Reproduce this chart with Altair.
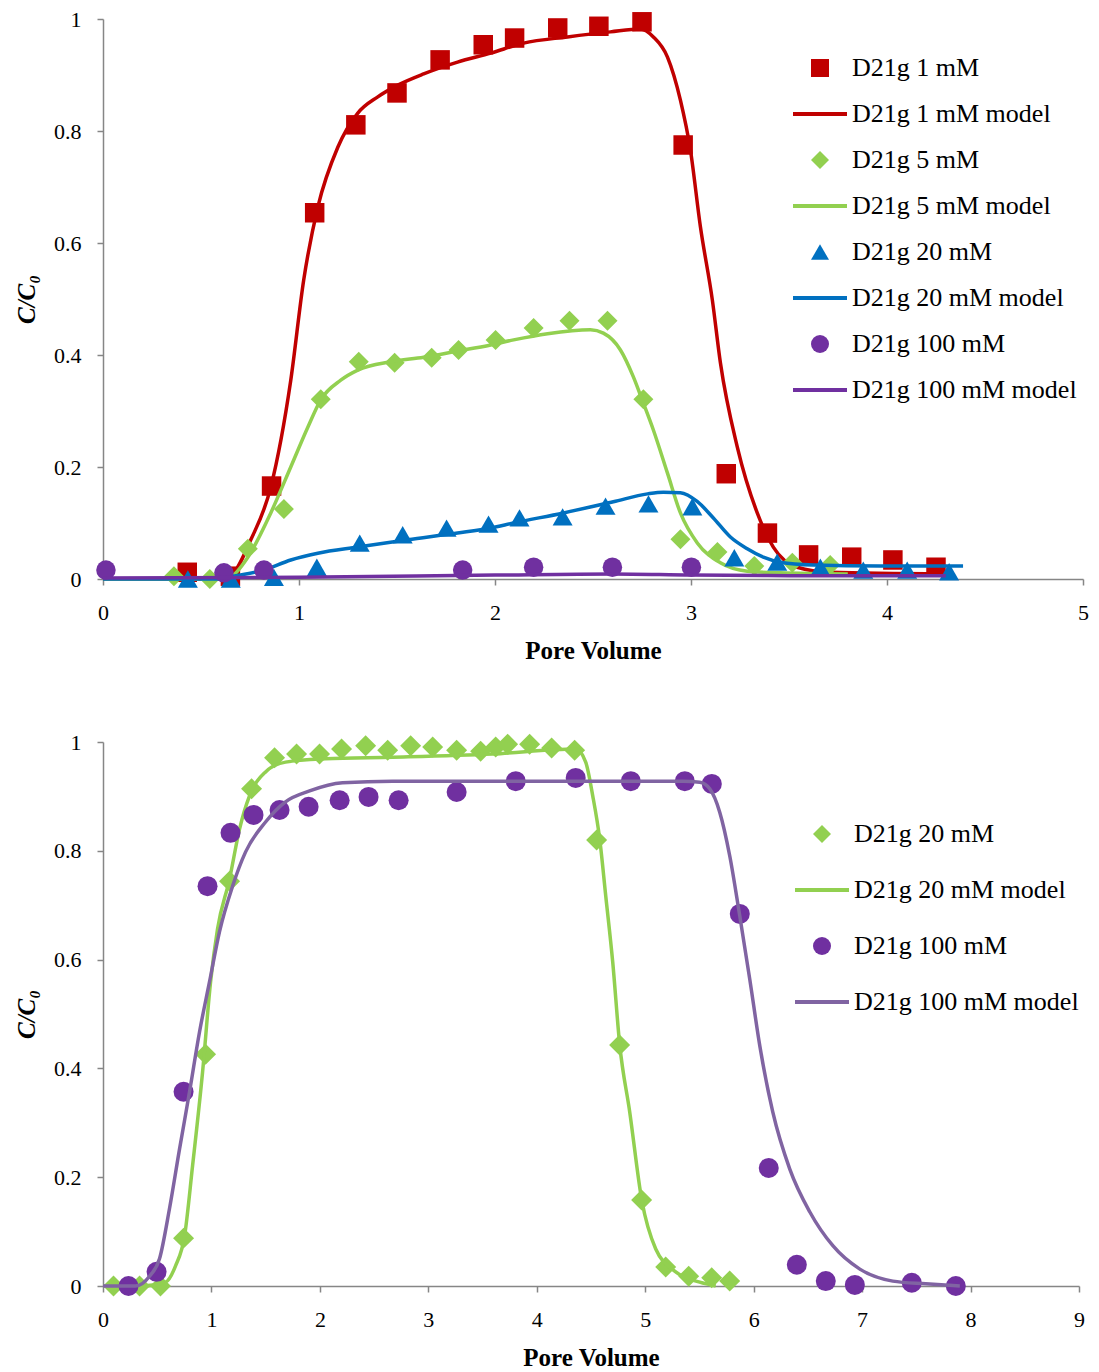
import altair as alt
import pandas as pd

# ---------------- Top panel ----------------
top_names = ["D21g 1 mM", "D21g 1 mM model", "D21g 5 mM", "D21g 5 mM model",
             "D21g 20 mM", "D21g 20 mM model", "D21g 100 mM", "D21g 100 mM model"]

t1_x = [0.43, 0.65, 0.86, 1.08, 1.29, 1.50, 1.72, 1.94, 2.10, 2.32, 2.53, 2.75, 2.96, 3.18, 3.39, 3.60, 3.82, 4.03, 4.25]
t1_y = [0.012, 0.005, 0.166, 0.654, 0.811, 0.868, 0.927, 0.954, 0.966, 0.984, 0.987, 0.995, 0.775, 0.188, 0.082, 0.043, 0.039, 0.034, 0.021]
t1m_x = [0.0, 0.60, 0.65, 0.754, 0.856, 0.958, 1.024, 1.096, 1.198, 1.300, 1.402, 1.504, 1.636, 1.809, 1.978, 2.146, 2.370, 2.589, 2.742, 2.808, 2.880, 2.946, 2.997, 3.048, 3.109, 3.150, 3.236, 3.338, 3.420, 3.542, 3.710, 4.30]
t1m_y = [0.0, 0.0, 0.005, 0.070, 0.164, 0.355, 0.534, 0.664, 0.771, 0.832, 0.861, 0.882, 0.902, 0.923, 0.939, 0.957, 0.968, 0.977, 0.982, 0.968, 0.932, 0.855, 0.766, 0.629, 0.498, 0.386, 0.236, 0.118, 0.057, 0.021, 0.012, 0.009]

t5_x = [0.362, 0.545, 0.739, 0.923, 1.111, 1.305, 1.488, 1.677, 1.814, 2.003, 2.197, 2.380, 2.574, 2.757, 2.946, 3.135, 3.323, 3.517, 3.710]
t5_y = [0.005, 0.0, 0.054, 0.125, 0.321, 0.388, 0.386, 0.395, 0.409, 0.427, 0.448, 0.461, 0.461, 0.321, 0.071, 0.048, 0.023, 0.029, 0.025]
t5m_x = [0.0, 0.60, 0.652, 0.739, 0.856, 0.958, 1.045, 1.111, 1.213, 1.300, 1.468, 1.636, 1.809, 1.978, 2.095, 2.268, 2.487, 2.553, 2.640, 2.706, 2.757, 2.808, 2.880, 2.946, 3.033, 3.150, 3.287, 3.456, 3.80]
t5m_y = [0.0, 0.0, 0.004, 0.039, 0.118, 0.200, 0.271, 0.320, 0.355, 0.373, 0.388, 0.396, 0.407, 0.418, 0.427, 0.438, 0.445, 0.439, 0.409, 0.361, 0.314, 0.266, 0.189, 0.118, 0.064, 0.029, 0.014, 0.011, 0.009]

t20_x = [0.433, 0.652, 0.872, 1.091, 1.310, 1.529, 1.753, 1.967, 2.125, 2.345, 2.564, 2.783, 3.007, 3.221, 3.440, 3.660, 3.879, 4.103, 4.317]
t20_y = [0.0, 0.0, 0.003, 0.021, 0.064, 0.079, 0.091, 0.098, 0.109, 0.111, 0.130, 0.134, 0.129, 0.038, 0.030, 0.021, 0.016, 0.016, 0.013]
t20m_x = [0.0, 0.60, 0.652, 0.821, 0.958, 1.096, 1.300, 1.555, 1.809, 1.978, 2.095, 2.350, 2.604, 2.778, 2.859, 2.946, 3.033, 3.114, 3.201, 3.287, 3.369, 3.456, 3.624, 3.965, 4.388]
t20m_y = [0.0, 0.0, 0.004, 0.016, 0.034, 0.046, 0.057, 0.070, 0.082, 0.091, 0.100, 0.118, 0.138, 0.152, 0.155, 0.154, 0.138, 0.109, 0.075, 0.054, 0.039, 0.030, 0.025, 0.023, 0.023]

t100_x = [0.015, 0.617, 0.821, 1.835, 2.197, 2.599, 3.002]
t100_y = [0.016, 0.011, 0.016, 0.016, 0.021, 0.021, 0.021]
t100m_x = [0.0, 1.0, 2.0, 2.6, 3.0, 3.5, 4.30]
t100m_y = [0.002, 0.003, 0.007, 0.009, 0.007, 0.006, 0.006]

top_colors = ["#C00000", "#C00000", "#92D050", "#92D050", "#0070C0", "#0070C0", "#7030A0", "#7030A0"]

# ---------------- Bottom panel ----------------
bot_names = ["D21g 20 mM", "D21g 20 mM model", "D21g 100 mM", "D21g 100 mM model"]

b20_x = [0.097, 0.337, 0.530, 0.743, 0.946, 1.167, 1.370, 1.582, 1.785, 1.997, 2.200, 2.422, 2.625, 2.837, 3.040, 3.261, 3.482, 3.621, 3.731, 3.934, 4.137, 4.349, 4.552, 4.764, 4.967, 5.189, 5.401, 5.613, 5.779]
b20_y = [0.0, 0.0, 0.0, 0.088, 0.426, 0.744, 0.914, 0.971, 0.978, 0.978, 0.987, 0.993, 0.985, 0.993, 0.991, 0.985, 0.983, 0.991, 0.996, 0.996, 0.989, 0.985, 0.820, 0.443, 0.158, 0.035, 0.018, 0.015, 0.009]
b20m_x = [0.0, 0.365, 0.577, 0.669, 0.752, 0.826, 0.918, 0.992, 1.056, 1.167, 1.259, 1.351, 1.499, 1.683, 2.053, 2.671, 3.593, 4.359, 4.451, 4.516, 4.580, 4.636, 4.700, 4.765, 4.857, 4.968, 5.097, 5.281, 5.503, 5.650]
b20m_y = [0.0, 0.0, 0.007, 0.037, 0.092, 0.221, 0.393, 0.559, 0.656, 0.748, 0.840, 0.901, 0.945, 0.963, 0.969, 0.972, 0.978, 0.987, 0.963, 0.901, 0.822, 0.717, 0.596, 0.443, 0.320, 0.158, 0.068, 0.026, 0.007, 0.0]

b100_x = [0.235, 0.494, 0.743, 0.964, 1.176, 1.388, 1.628, 1.896, 2.182, 2.449, 2.726, 3.261, 3.806, 4.359, 4.867, 5.365, 5.614, 5.872, 6.139, 6.398, 6.665, 6.933, 7.458, 7.864]
b100_y = [0.0, 0.026, 0.357, 0.735, 0.833, 0.866, 0.875, 0.881, 0.893, 0.899, 0.893, 0.908, 0.928, 0.934, 0.928, 0.928, 0.923, 0.684, 0.217, 0.039, 0.009, 0.002, 0.006, 0.0]
b100m_x = [0.0, 0.30, 0.429, 0.521, 0.613, 0.706, 0.798, 0.890, 0.982, 1.074, 1.195, 1.315, 1.499, 1.683, 1.905, 2.209, 2.671, 5.346, 5.503, 5.595, 5.687, 5.780, 5.872, 5.964, 6.057, 6.176, 6.333, 6.518, 6.730, 6.979, 7.283, 7.587, 7.901]
b100m_y = [0.0, 0.0, 0.018, 0.050, 0.142, 0.252, 0.357, 0.467, 0.559, 0.651, 0.735, 0.798, 0.853, 0.890, 0.910, 0.925, 0.928, 0.928, 0.926, 0.914, 0.871, 0.790, 0.680, 0.564, 0.441, 0.320, 0.215, 0.136, 0.074, 0.031, 0.009, 0.004, 0.0]

bot_colors = ["#92D050", "#92D050", "#7030A0", "#8064A2"]

LINE_SYM = "M-3,-0.22L3,-0.22L3,0.22L-3,0.22Z"
top_shapes = ["square", LINE_SYM, "diamond", LINE_SYM, "triangle-up", LINE_SYM, "circle", LINE_SYM]
bot_shapes = ["diamond", LINE_SYM, "circle", LINE_SYM]

FONT = "Liberation Serif"


def frame(xs, ys, name):
    return pd.DataFrame({"x": xs, "y": ys, "series": name})


def make_panel(series_list, names, colors, shapes, xmax, xvals, w, h, lx, ly, rowpad, sizes):
    cscale = alt.Scale(domain=names, range=colors)
    sscale = alt.Scale(domain=names, range=shapes)
    xenc = alt.X("x:Q", scale=alt.Scale(domain=[0, xmax], nice=False, zero=False),
                 axis=alt.Axis(title="Pore Volume", values=xvals, format="d", labelFlush=False))
    yenc = alt.Y("y:Q", scale=alt.Scale(domain=[0, 1], nice=False),
                 axis=alt.Axis(title="C/C\u2080", values=[0, 0.2, 0.4, 0.6, 0.8, 1], format="~g",
                               titleFontStyle="italic", labelFlush=False))
    leg = alt.Legend(title=None, orient="none", legendX=lx, legendY=ly,
                     labelFont=FONT, labelFontSize=26, labelColor="black",
                     symbolSize=324, rowPadding=rowpad, labelOffset=19,
                     symbolStrokeWidth=0, symbolOpacity=1, padding=0, labelLimit=500)
    layers = []
    for (kind, df), size in zip(series_list, sizes):
        if kind == "pts":
            layers.append(alt.Chart(df).mark_point(filled=True, opacity=1, size=size, strokeWidth=0).encode(
                x=xenc, y=yenc,
                color=alt.Color("series:N", scale=cscale, legend=leg),
                shape=alt.Shape("series:N", scale=sscale, legend=leg),
            ))
        else:
            layers.append(alt.Chart(df).mark_line(strokeWidth=3.5, interpolate="monotone").encode(
                x=xenc, y=yenc,
                color=alt.Color("series:N", scale=cscale, legend=None),
            ))
    return alt.layer(*layers).properties(width=w, height=h)


top_series = [
    ("pts", frame(t1_x, t1_y, top_names[0])),
    ("line", frame(t1m_x, t1m_y, top_names[1])),
    ("pts", frame(t5_x, t5_y, top_names[2])),
    ("line", frame(t5m_x, t5m_y, top_names[3])),
    ("pts", frame(t20_x, t20_y, top_names[4])),
    ("line", frame(t20m_x, t20m_y, top_names[5])),
    ("pts", frame(t100_x, t100_y, top_names[6])),
    ("line", frame(t100m_x, t100m_y, top_names[7])),
]
bot_series = [
    ("pts", frame(b20_x, b20_y, bot_names[0])),
    ("line", frame(b20m_x, b20m_y, bot_names[1])),
    ("pts", frame(b100_x, b100_y, bot_names[2])),
    ("line", frame(b100m_x, b100m_y, bot_names[3])),
]

top = make_panel(top_series, top_names, top_colors, top_shapes, 5, [0, 1, 2, 3, 4, 5],
                 980, 560, 704, 36, 20, [380, 0, 400, 0, 400, 0, 380, 0])
bottom = make_panel(bot_series, bot_names, bot_colors, bot_shapes, 9, list(range(10)),
                    976, 544, 706, 79, 30, [440, 0, 400, 0])

chart = alt.vconcat(top, bottom, spacing=68).resolve_scale(
    color="independent", shape="independent", x="independent", y="independent"
).resolve_legend(color="independent", shape="independent").properties(
    padding={"top": 0, "left": 6, "right": 0, "bottom": 0}
).configure_view(stroke=None).configure_axis(
    grid=False,
    domainColor="#868686", domainWidth=1.5,
    tickColor="#868686", tickWidth=1.5, tickSize=6,
    labelFont=FONT, labelFontSize=22, labelColor="black",
    titleFont=FONT, titleFontSize=25, titleFontWeight="bold", titleColor="black",
).configure_axisY(labelPadding=16, titlePadding=14).configure_axisX(labelPadding=17, titlePadding=15)

chart.save("out.html", embed_options={"renderer": "svg", "actions": False})
